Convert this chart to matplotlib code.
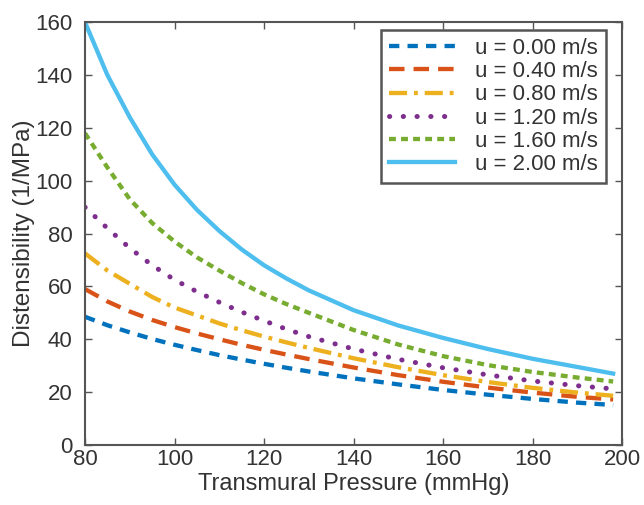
import numpy as np
import matplotlib
matplotlib.use("Agg")
import matplotlib.pyplot as plt

plt.rcParams['font.family'] = ['Liberation Sans', 'DejaVu Sans']

# transmural pressure (mmHg)
pressure = [80, 85, 90, 95, 100, 105, 110, 115, 120, 125, 130,
            140, 150, 160, 170, 180, 190, 198]

# distensibility (1/MPa) for each flow velocity
d_000 = [48.5, 45.3, 42.6, 40.1, 37.9, 35.9, 34.0, 32.3, 30.7, 29.2, 27.8,
         25.2, 22.9, 20.8, 19.0, 17.4, 16.0, 15.1]
d_040 = [59.0, 54.3, 50.5, 47.3, 44.6, 42.2, 40.0, 37.9, 36.0, 34.2, 32.5,
         29.3, 26.4, 23.9, 21.7, 19.8, 18.2, 17.2]
d_080 = [72.5, 66.0, 61.0, 56.0, 52.0, 49.0, 46.0, 43.4, 41.0, 38.8, 36.7,
         32.8, 29.4, 26.4, 23.8, 21.6, 19.8, 18.6]
d_120 = [90.0, 82.0, 74.5, 68.0, 62.5, 58.0, 54.0, 50.3, 47.0, 43.8, 41.0,
         36.3, 32.4, 29.2, 26.5, 24.2, 22.4, 21.2]
d_160 = [118.0, 105.0, 93.0, 84.0, 77.0, 71.0, 66.0, 61.3, 57.0, 53.3, 50.0,
         43.5, 38.0, 33.6, 30.2, 27.6, 25.5, 24.0]
d_200 = [160.0, 140.0, 124.0, 110.0, 98.5, 89.0, 81.0, 74.0, 68.0, 63.0, 58.5,
         51.0, 45.2, 40.5, 36.3, 32.6, 29.5, 27.0]

labels = ['u = 0.00 m/s', 'u = 0.40 m/s', 'u = 0.80 m/s',
          'u = 1.20 m/s', 'u = 1.60 m/s', 'u = 2.00 m/s']
series = [d_000, d_040, d_080, d_120, d_160, d_200]
colors = ['#0072BD', '#D95319', '#EDB120', '#7E2F8E', '#77AC30', '#4DBEEE']
dashes = [(2.4, 1.9), (3.6, 2.1), (4.2, 1.6, 0.9, 1.6), (0.05, 2.7), (1.6, 1.2), None]

fig = plt.figure(figsize=(6.44, 5.05), dpi=100)
ax = fig.add_axes([0.132, 0.119, 0.834, 0.837])

lw = 3.1
for y, lab, c, d in zip(series, labels, colors, dashes):
    line, = ax.plot(pressure, y, color=c, lw=lw, label=lab)
    if d is not None:
        line.set_dashes(d)
    if lab == 'u = 1.20 m/s':
        line.set_dash_capstyle('round')
        line.set_linewidth(3.6)

ax.set_xlim(80, 200)
ax.set_ylim(0, 160)
ax.set_xticks(np.arange(80, 201, 20))
ax.set_yticks(np.arange(0, 161, 20))
ax.tick_params(direction='in', top=True, right=True, length=5, width=1,
               labelsize=16, colors='#555555', labelcolor='#333333')
ax.tick_params(axis='y', pad=9)
ax.tick_params(axis='x', pad=3)
for s in ax.spines.values():
    s.set_color('#555555')
    s.set_linewidth(1.5)

ax.set_xlabel('Transmural Pressure (mmHg)', fontsize=17, color='#333333', labelpad=2)
ax.set_ylabel('Distensibility (1/MPa)', fontsize=17.5, color='#333333')
ax.yaxis.set_label_coords(-0.094, 0.5)

leg = ax.legend(loc='upper right', bbox_to_anchor=(0.970, 0.981), fontsize=16,
                handlelength=3.0, labelspacing=0.1, borderpad=0.35,
                borderaxespad=0, handletextpad=0.9, fancybox=False, framealpha=1)
leg.get_frame().set_edgecolor('#555555')
leg.get_frame().set_linewidth(1.8)
for t in leg.get_texts():
    t.set_color('#333333')

fig.savefig('out.png', dpi=100)
